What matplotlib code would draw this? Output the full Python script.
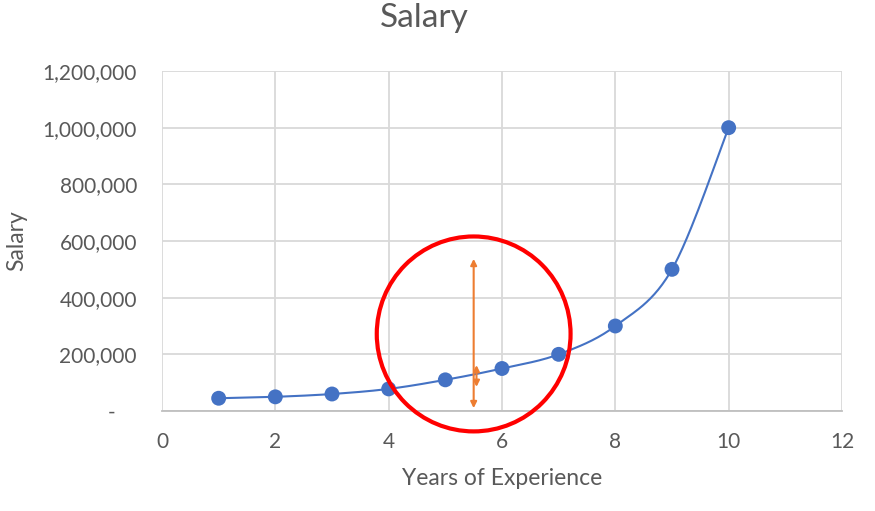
import numpy as np
import matplotlib
matplotlib.use('Agg')
import matplotlib.pyplot as plt
from matplotlib.patches import Ellipse
from matplotlib.ticker import FuncFormatter

plt.rcParams['font.family'] = ['Lato', 'DejaVu Sans']

years = [1, 2, 3, 4, 5, 6, 7, 8, 9, 10]
salary = [45000, 50000, 60000, 78000, 110000, 150000, 200000, 300000, 500000, 1000000]

# annotation: arrows at x=5.5 and a red circle around them
arrow_x = 5.5
long_arrow = (10000, 537000)
short_arrow = (85000, 162000)
circle_center = (5.5, 272000)
circle_size = (3.42, 688000)

TEXT = '#595959'
GRID = '#d9d9d9'
BLUE = '#4472c4'


def excel_smooth(x, y, steps=30):
    # Excel style smoothed line: bezier segments, control points from neighbours
    x = np.asarray(x, float)
    y = np.asarray(y, float)
    px = np.concatenate([[x[0]], x, [x[-1]]])
    py = np.concatenate([[y[0]], y, [y[-1]]])
    t = np.linspace(0, 1, steps)[:, None]
    xs, ys = [], []
    for i in range(1, len(px) - 2):
        p0 = np.array([px[i], py[i]])
        p3 = np.array([px[i + 1], py[i + 1]])
        c1 = p0 + (np.array([px[i + 1], py[i + 1]]) - np.array([px[i - 1], py[i - 1]])) / 6
        c2 = p3 - (np.array([px[i + 2], py[i + 2]]) - np.array([px[i], py[i]])) / 6
        pts = ((1 - t) ** 3) * p0 + 3 * ((1 - t) ** 2) * t * c1 + 3 * (1 - t) * t ** 2 * c2 + t ** 3 * p3
        xs.append(pts[:, 0])
        ys.append(pts[:, 1])
    return np.concatenate(xs), np.concatenate(ys)


fig = plt.figure(figsize=(8.75, 5.11), dpi=100)
ax = fig.add_axes([162 / 875, 1 - 411 / 511, 680 / 875, 340 / 511])

sx, sy = excel_smooth(years, salary)
ax.plot(sx, sy, color=BLUE, lw=1.5, zorder=3)
ax.scatter(years, salary, s=115, color=BLUE, zorder=4, edgecolors='none')

ax.annotate('', xy=(arrow_x, long_arrow[1]), xytext=(arrow_x, long_arrow[0]),
            arrowprops=dict(arrowstyle='<|-|>', color='#ed7d31', lw=1.5,
                            mutation_scale=9, shrinkA=0, shrinkB=0), zorder=5)
ax.annotate('', xy=(arrow_x + 0.05, short_arrow[1]), xytext=(arrow_x + 0.05, short_arrow[0]),
            arrowprops=dict(arrowstyle='<|-|>', color='#ed7d31', lw=1.5,
                            mutation_scale=9, shrinkA=0, shrinkB=0), zorder=5)
ax.add_patch(Ellipse(circle_center, circle_size[0], circle_size[1], fill=False,
                     edgecolor='#ff0000', lw=3, zorder=6, clip_on=False))

ax.set_xlim(0, 12)
ax.set_ylim(0, 1200000)
ax.set_xticks(range(0, 13, 2))
ax.set_yticks(range(0, 1200001, 200000))
ax.yaxis.set_major_formatter(FuncFormatter(lambda v, p: '-    ' if v == 0 else f'{int(v):,}'))
ax.grid(True, color=GRID, lw=1.3)
ax.set_axisbelow(True)
for side in ['top', 'right', 'left']:
    ax.spines[side].set_visible(False)
ax.spines['bottom'].set_color('#bfbfbf')
ax.spines['bottom'].set_linewidth(1.3)
ax.tick_params(length=0, colors=TEXT, labelsize=15)
ax.tick_params(axis='y', pad=18)
ax.tick_params(axis='x', pad=15)

ax.set_xlabel('Years of Experience', fontsize=16.5, color=TEXT)
ax.set_ylabel('Salary', fontsize=16.5, color=TEXT)
ax.xaxis.set_label_coords(0.5, -(478 - 411) / 340, transform=ax.transAxes)
ax.xaxis.label.set_va('center')
ax.yaxis.set_label_coords(-(162 - 17) / 680, 0.5, transform=ax.transAxes)
ax.yaxis.label.set_va('center')
fig.text(424 / 875, 1 - 18 / 511, 'Salary', ha='center', va='center',
         fontsize=24, color=TEXT)

fig.savefig('out.png', dpi=100, facecolor='white')
